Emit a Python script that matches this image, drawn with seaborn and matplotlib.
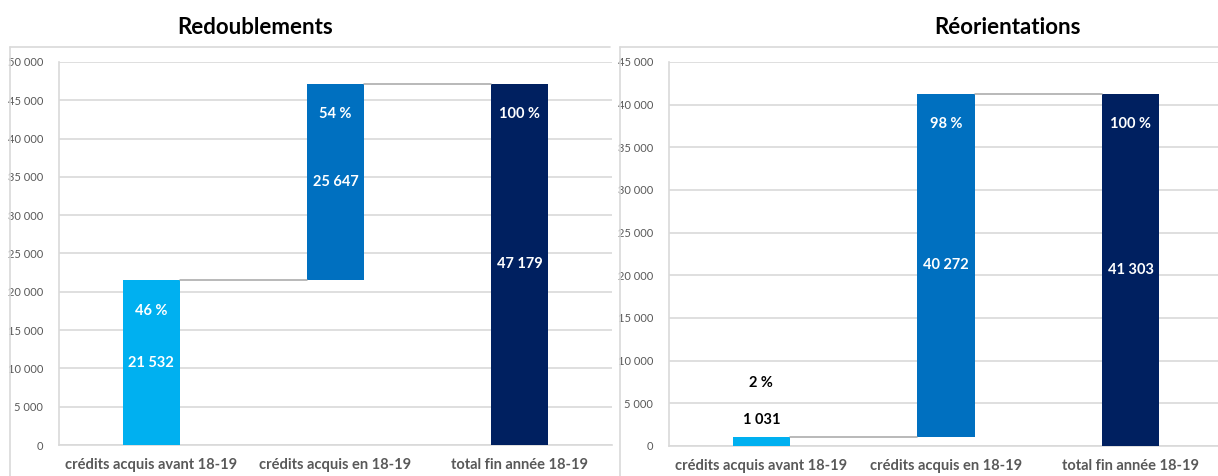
import matplotlib
matplotlib.use("Agg")
import matplotlib.pyplot as plt
import seaborn as sns
import pandas as pd
from matplotlib.lines import Line2D
from matplotlib.ticker import FuncFormatter, MultipleLocator

categories = ["crédits acquis avant 18-19", "crédits acquis en 18-19", "total fin année 18-19"]
redoublements_values = [21532, 25647, 47179]
redoublements_pct = ["46 %", "54 %", "100 %"]
reorientations_values = [1031, 40272, 41303]
reorientations_pct = ["2 %", "98 %", "100 %"]
titles = ["Redoublements", "Réorientations"]
colors = ["#00B0F0", "#0070C0", "#002060"]

sns.set_theme(style="white")
plt.rcParams['font.family'] = ['Lato', 'DejaVu Sans']

fig = plt.figure(figsize=(12.18, 4.76), dpi=100)
W, H = 1218, 476

def px(x0, y0, x1, y1):
    return [x0 / W, 1 - y1 / H, (x1 - x0) / W, (y1 - y0) / H]

# frames (left and top edges visible)
for fx in (10, 620):
    ytop = 1 - 47 / H
    fig.lines.append(Line2D([fx / W, fx / W], [-0.01, ytop], transform=fig.transFigure,
                            color="#d9d9d9", lw=1.2, zorder=0))
    fig.lines.append(Line2D([fx / W, (fx + 600) / W], [ytop, ytop], transform=fig.transFigure,
                            color="#d9d9d9", lw=1.2, zorder=0))

def fmt(v, _=None):
    return f"{int(v):,}".replace(",", " ")

def draw(ax, values, pcts, ymax, title, title_x, small_first):
    bases = [0, values[0], 0]
    tops = [values[0], values[0] + values[1], values[2]]
    df = pd.DataFrame({"cat": categories, "top": tops})
    sns.barplot(data=df, x="cat", y="top", hue="cat", palette=colors,
                legend=False, width=0.31, ax=ax, saturation=1, zorder=3)
    for p, b, v in zip(ax.patches, bases, values):
        p.set_y(b)
        p.set_height(v)
        p.set_edgecolor("none")
    ax.set_ylim(0, ymax)
    ax.set_xlim(-0.5, 2.5)
    ax.yaxis.set_major_locator(MultipleLocator(5000))
    ax.yaxis.set_major_formatter(FuncFormatter(fmt))
    ax.grid(axis="y", color="#d9d9d9", lw=1.2, zorder=0)
    ax.set_axisbelow(True)
    for s in ["top", "right"]:
        ax.spines[s].set_visible(False)
    for s in ["left", "bottom"]:
        ax.spines[s].set_color("#d9d9d9")
        ax.spines[s].set_linewidth(1.2)
    ax.set_xlabel("")
    ax.set_ylabel("")
    ax.tick_params(axis="y", labelsize=8, colors="#595959", length=0, pad=11.5)
    ax.tick_params(axis="x", labelsize=10.5, colors="#595959", length=0, pad=9.5)
    for lab in ax.get_xticklabels():
        lab.set_fontweight("bold")
    # connectors
    hw = 0.155
    ax.plot([0 + hw, 1 - hw], [tops[0], tops[0]], color="#a6a6a6", lw=1.1, zorder=4)
    ax.plot([1 + hw, 2 - hw], [tops[1], tops[1]], color="#a6a6a6", lw=1.1, zorder=4)
    # labels
    for i, (b, v, t, pc) in enumerate(zip(bases, values, tops, pcts)):
        if i == 0 and small_first:
            ax.annotate(fmt(v), (i, t), xytext=(0, 7), textcoords="offset points",
                        ha="center", va="bottom", fontsize=10.5, fontweight="bold", color="black")
            ax.annotate(pc, (i, t), xytext=(0, 34), textcoords="offset points",
                        ha="center", va="bottom", fontsize=10.5, fontweight="bold", color="black")
        else:
            ax.text(i, b + v / 2, fmt(v), ha="center", va="center", fontsize=10.5,
                    fontweight="bold", color="white", zorder=5)
            ax.annotate(pc, (i, t), xytext=(0, -22), textcoords="offset points",
                        ha="center", va="center", fontsize=10.5, fontweight="bold", color="white", zorder=5)
    fig.text(title_x / W, 1 - 28 / H, title, ha="center", va="center",
             fontsize=16, fontweight="bold", color="black")

ax1 = fig.add_axes(px(59, 62, 612, 445))
draw(ax1, redoublements_values, redoublements_pct, 50000, titles[0], 255, False)
ax2 = fig.add_axes(px(669, 62, 1223, 446))
draw(ax2, reorientations_values, reorientations_pct, 45000, titles[1], 1007, True)

fig.savefig("out.png", dpi=100, facecolor="white")
